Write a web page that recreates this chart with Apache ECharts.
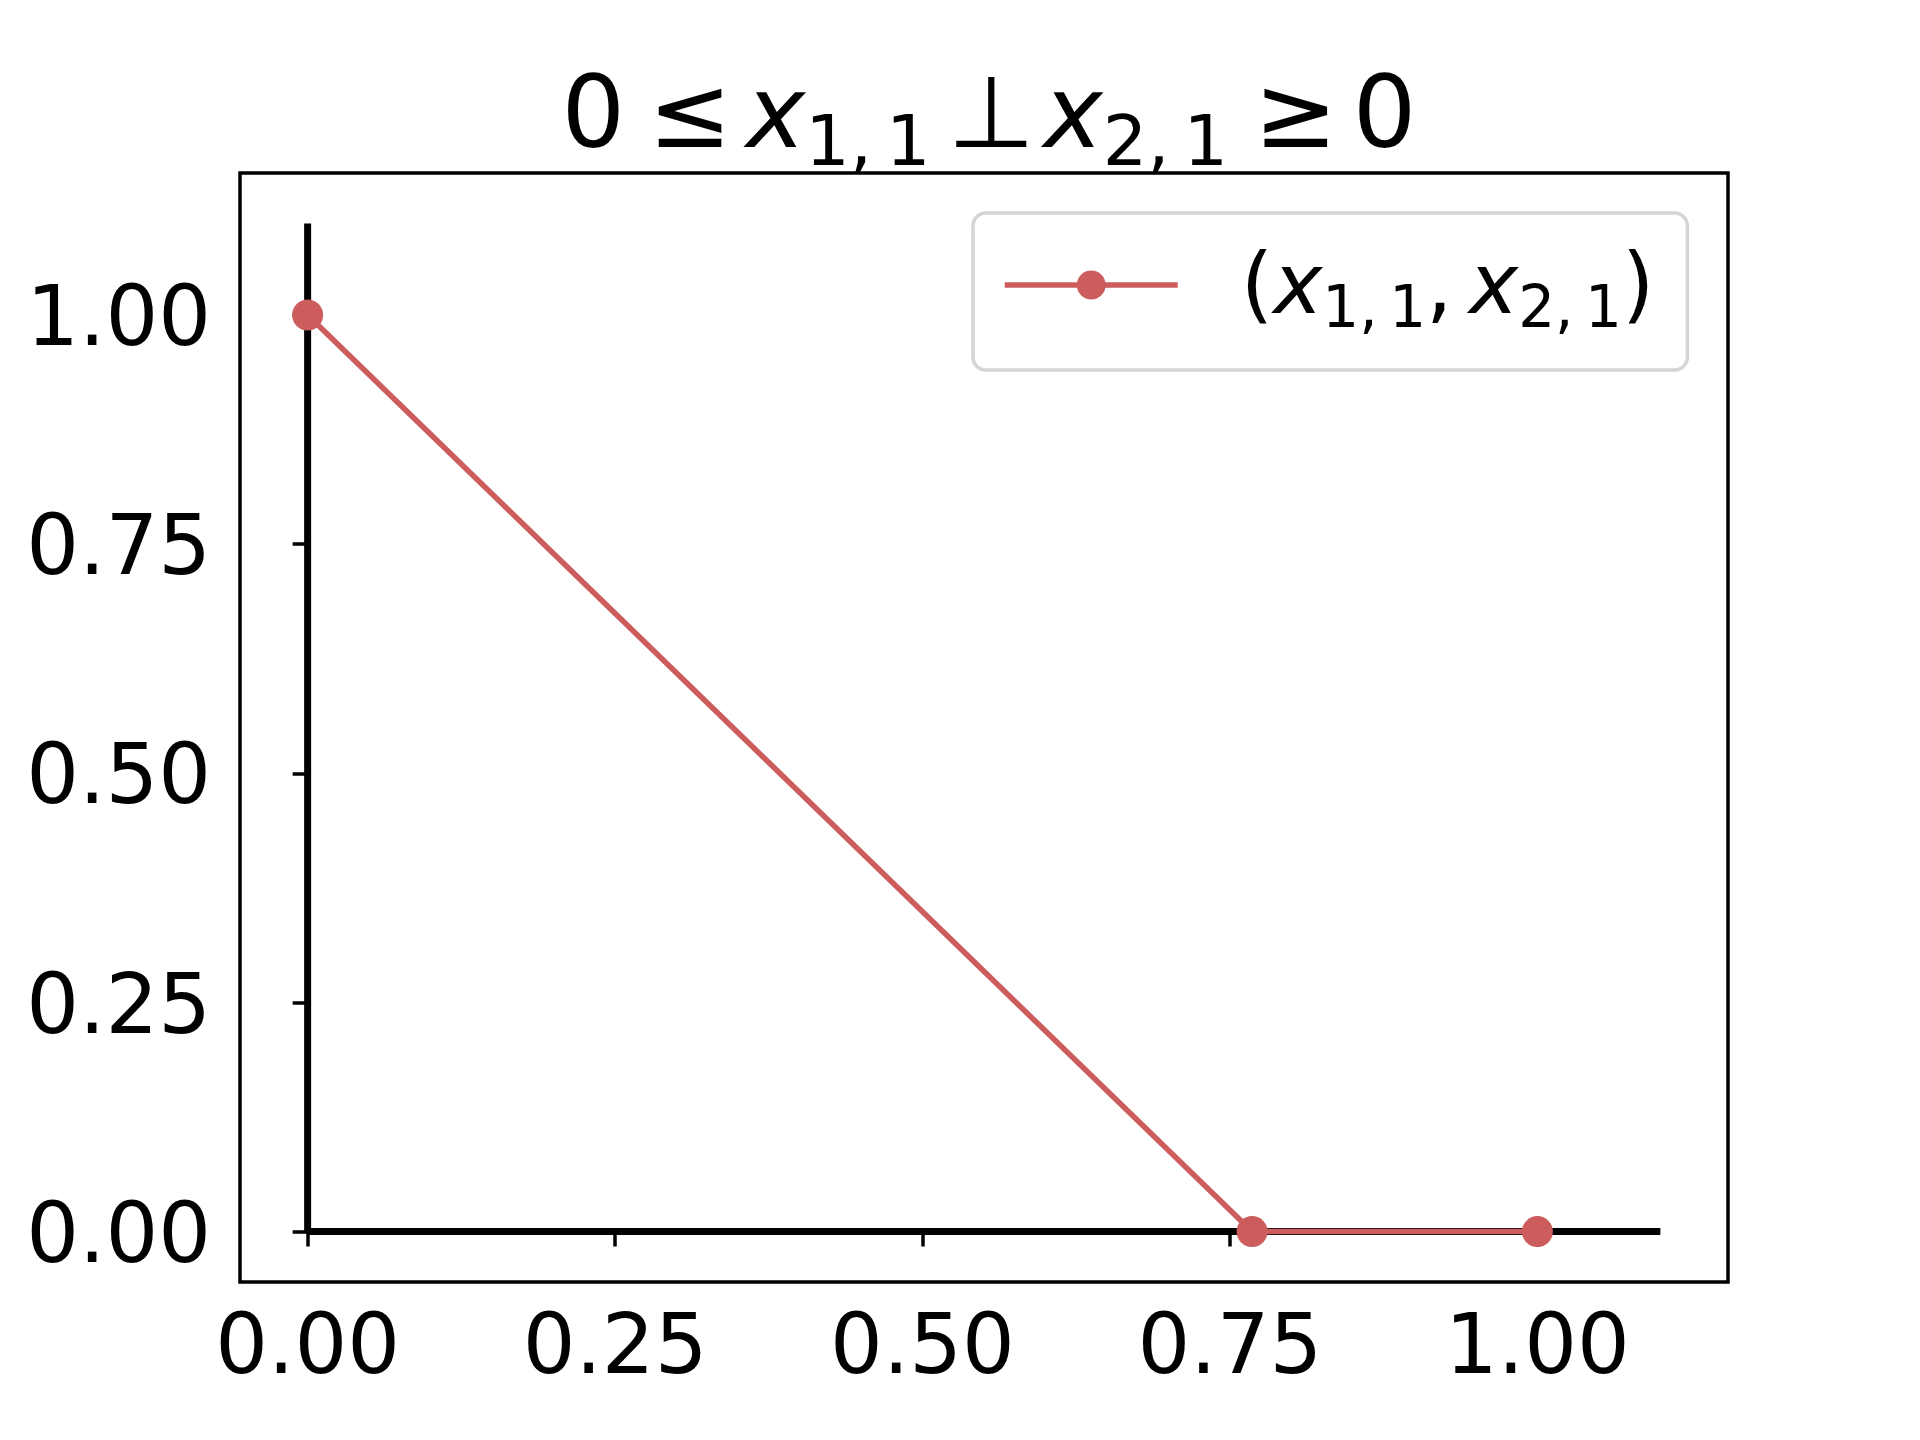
<!DOCTYPE html>
<html>
<head>
<meta charset="utf-8">
<script src="https://cdn.jsdelivr.net/npm/echarts@6/dist/echarts.min.js"></script>
<style>html,body{margin:0;padding:0;background:#fff}#c{width:1920px;height:1440px}</style>
</head>
<body>
<div id="c"></div>
<script>
// ---- data ----
const tickValues = [0, 0.25, 0.5, 0.75, 1.0];
const vLineX = [0, 0];
const vLineY = [0, 1.1];
const hLineX = [0, 1.1];
const hLineY = [0, 0];
const pairX = [0, 0.768, 1.0];
const pairY = [1.0, 0, 0];
const seriesName = '(x1,1, x2,1)';

const FONT = 'DejaVu Sans';
const RED = '#CD5C5C';

const zip = (a, b) => a.map((v, i) => [v, b[i]]);

const chart = echarts.init(document.getElementById('c'), null, {renderer: 'canvas'});

const base = {fontFamily: FONT, fontWeight: 'normal', color: '#000'};
const titleRich = {
  n: Object.assign({}, base, {fontSize: 100, lineHeight: 120}),
  i: Object.assign({}, base, {fontSize: 100, fontStyle: 'italic', lineHeight: 120}),
  s: Object.assign({}, base, {fontSize: 70, lineHeight: 120, padding: [52, 0, 0, 0]}),
  r1: Object.assign({}, base, {fontSize: 100, lineHeight: 120, padding: [0, 14, 0, 23]}),
  r2: Object.assign({}, base, {fontSize: 100, lineHeight: 120, padding: [0, 9, 0, 17]}),
  r3: Object.assign({}, base, {fontSize: 100, lineHeight: 120, padding: [0, 15, 0, 26]})
};

const legendRich = {
  p0: Object.assign({}, base, {fontSize: 83, lineHeight: 100, padding: [12, 0, 0, 58]}),
  n: Object.assign({}, base, {fontSize: 83, lineHeight: 100, padding: [12, 0, 0, 0]}),
  i: Object.assign({}, base, {fontSize: 83, fontStyle: 'italic', lineHeight: 100, padding: [12, 0, 0, 0]}),
  s: Object.assign({}, base, {fontSize: 58, lineHeight: 100, padding: [54, 0, 0, 0]})
};

const yLabelRich = {
  a: Object.assign({}, base, {fontSize: 83, padding: [17, 0, 0, 0]})
};

const option = {
  animation: false,
  backgroundColor: '#fff',
  title: {
    text: '{n|0}{r1|\u2264}{i|x}{s|1,\u20091}{r2|\u22A5}{i|x}{s|2,\u20091}{r3|\u2265}{n|0}',
    left: 989,
    top: 61,
    padding: 0,
    textAlign: 'center',
    textStyle: {rich: titleRich, fontFamily: FONT, fontWeight: 'normal', fontSize: 100, color: '#000'}
  },
  legend: {
    left: 973,
    top: 213,
    padding: [16, 33, 29, 29],
    itemWidth: 173,
    itemHeight: 36,
    itemGap: 0,
    selectedMode: false,
    borderColor: '#d5d5d5',
    borderWidth: 3.5,
    borderRadius: 13,
    backgroundColor: '#fff',
    lineStyle: {width: 5.5},
    data: [{name: seriesName}],
    formatter: () => '{p0|(}{i|x}{s|1,\u20091}{n|,\u2009}{i|x}{s|2,\u20091}{n|)}',
    textStyle: {rich: legendRich, fontFamily: FONT, fontWeight: 'normal', fontSize: 83, color: '#000'}
  },
  grid: {
    left: 240, right: 192, top: 173, bottom: 158,
    containLabel: false,
    outerBoundsMode: 'none',
    show: true,
    borderColor: '#000',
    borderWidth: 3.5,
    backgroundColor: 'transparent'
  },
  xAxis: {
    type: 'value',
    min: -0.055,
    max: 1.155,
    splitLine: {show: false},
    axisLine: {show: false},
    axisTick: {show: true, customValues: tickValues, length: 15, inside: false, lineStyle: {color: '#000', width: 3.5}},
    axisLabel: {
      customValues: tickValues,
      margin: 28,
      fontFamily: FONT, fontSize: 83, color: '#000',
      formatter: v => v.toFixed(2)
    }
  },
  yAxis: {
    type: 'value',
    min: -0.055,
    max: 1.155,
    splitLine: {show: false},
    axisLine: {show: false},
    axisTick: {show: true, customValues: tickValues, length: 15, inside: false, lineStyle: {color: '#000', width: 3.5}},
    axisLabel: {
      customValues: tickValues,
      margin: 29,
      fontFamily: FONT, fontSize: 83, color: '#000',
      rich: yLabelRich,
      formatter: v => '{a|' + v.toFixed(2) + '}'
    }
  },
  series: [
    {
      name: 'vline', type: 'line', data: zip(vLineX, vLineY),
      showSymbol: false, symbol: 'none', silent: true, z: 2,
      lineStyle: {color: '#000', width: 7}
    },
    {
      name: 'hline', type: 'line', data: zip(hLineX, hLineY),
      showSymbol: false, symbol: 'none', silent: true, z: 2,
      lineStyle: {color: '#000', width: 7}
    },
    {
      name: seriesName, type: 'line', data: zip(pairX, pairY),
      symbol: 'circle', symbolSize: 31, showSymbol: true, z: 3,
      itemStyle: {color: RED},
      lineStyle: {color: RED, width: 5.5}
    }
  ]
};
chart.setOption(option);
</script>
</body>
</html>
